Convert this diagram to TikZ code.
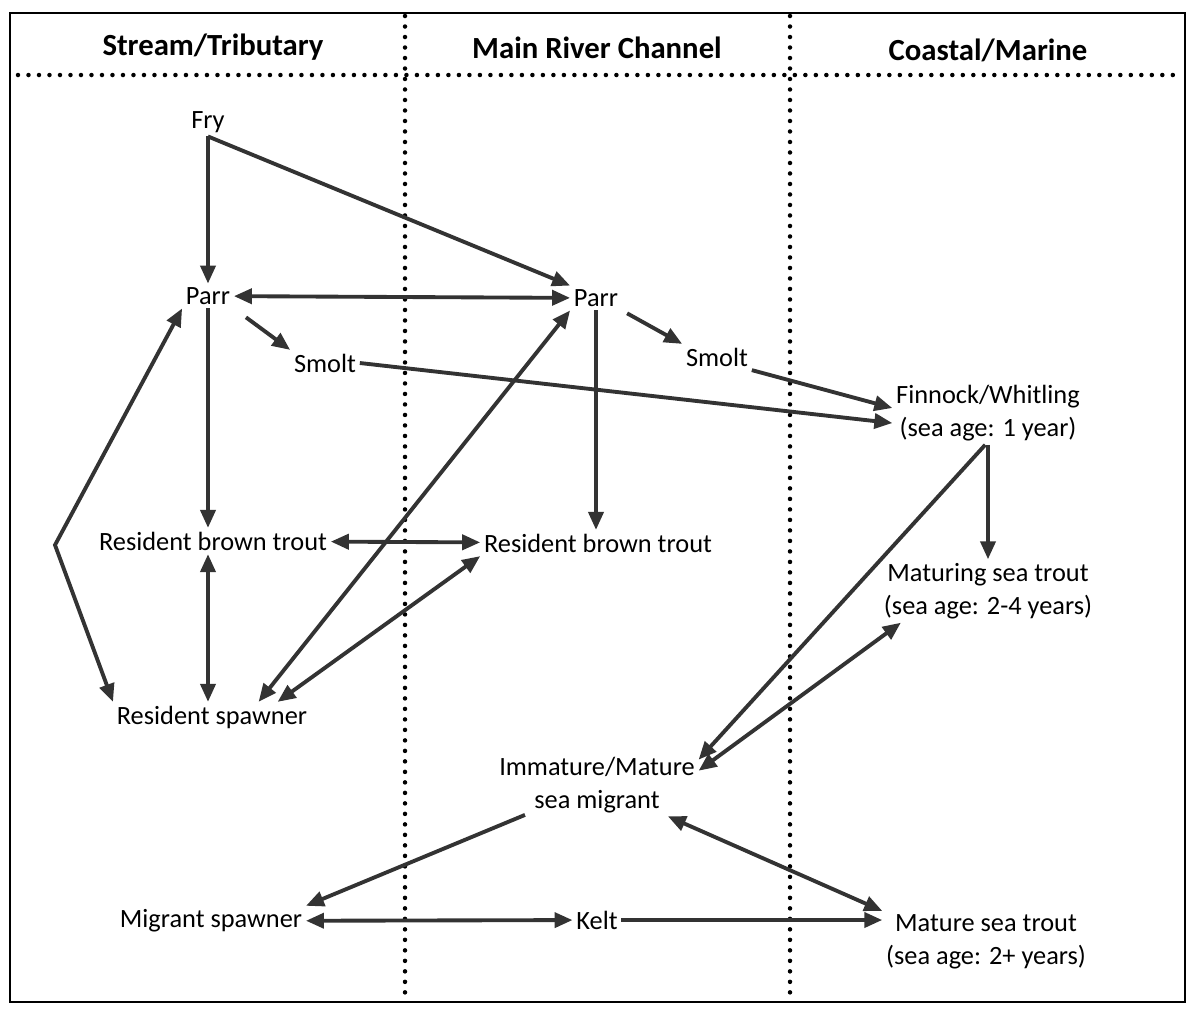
\documentclass[tikz,border=0pt]{standalone}
\usepackage{fontspec}
\setmainfont{Carlito}
\usepackage{tikz}
\usetikzlibrary{arrows.meta}

\begin{document}
\begin{tikzpicture}[x=0.02cm, y=-0.02cm,
    stage/.style={font=\fontsize{15}{18.8}\selectfont, align=center, inner sep=2pt},
    zone/.style={font=\bfseries\fontsize{17.5}{21}\selectfont},
    link/.style={draw=black!80, line width=2.2pt, -{Triangle[length=0.36cm, width=0.3cm]}},
    both/.style={link, {Triangle[length=0.36cm, width=0.3cm]}-{Triangle[length=0.36cm, width=0.3cm]}},
    dots/.style={line width=0.09cm, line cap=round, dash pattern=on 0pt off 0.21cm}]
    \useasboundingbox (0,0) rectangle (1187,1009);

    % draw frame
    \draw[line width=0.045cm] (10,13) rectangle (1185,1002);

    % draw dotted lines
    \draw[dots] (18,75) -- (1178,75);
    \foreach \x/\y in {405/995,790/1000}
      \draw[dots] (\x,16) -- (\x,\y);

    % draw headings
    \node[zone] (stream) at (213,47) {Stream/Tributary};
    \node[zone] (river) at (597,48) {Main River Channel};
    \node[zone] (coast) at (988,50) {Coastal/Marine};

    % draw nodes
    \node[stage] (fry) at (208,122) {Fry};
    \node[stage] (parr1) at (208,296) {Parr};
    \node[stage] (parr2) at (596,298) {Parr};
    \node[stage] (smolt1) at (325,363) {Smolt};
    \node[stage] (smolt2) at (717,357) {Smolt};
    \node[stage] (finnock) at (988,413) {Finnock/Whitling\\(sea age: 1 year)};
    \node[stage] (rbt1) at (213,541) {Resident brown trout};
    \node[stage] (rbt2) at (598,543) {Resident brown trout};
    \node[stage] (maturing) at (988,591) {Maturing sea trout\\(sea age: 2-4 years)};
    \node[stage] (rs) at (212,717) {Resident spawner};
    \node[stage] (immature) at (597,785) {Immature/Mature\\sea migrant};
    \node[stage] (migrant) at (211,921) {Migrant spawner};
    \node[stage] (kelt) at (597,920) {Kelt};
    \node[stage] (mature) at (986,942) {Mature sea trout\\(sea age: 2+ years)};
    \coordinate (bend) at (55,545);

    % draw arrows
    \draw[link] (fry) -- (parr1);
    \draw[link] (fry.south) -- (parr2.north west);
    \draw[both] (parr1) -- (parr2);
    \draw[link, shorten <=0.3cm] (parr1.south east) -- (smolt1.north west);
    \draw[link] (parr1) -- (parr1 |- rbt1.north);
    \draw[link, shorten <=0.12cm] (parr2.south east) -- (smolt2.north west);
    \draw[link] (parr2) -- (parr2 |- rbt2.north);
    \draw[link] (smolt1.east) -- (finnock.-174);
    \draw[link] (smolt2.south east) -- (finnock.177);
    \draw[link] (finnock) -- (maturing);
    \draw[link] (finnock.-95) -- (immature.14);
    \draw[both] (maturing.-160) -- (immature.8);
    \draw[both] (rbt1) -- (rbt2);
    \draw[both] (parr1 |- rbt1.south) -- (parr1 |- rs.north);
    \draw[both] (parr1.south west) -- (bend) -- (rs.north west);
    \draw[both] (rs.18) -- (parr2.south west);
    \draw[both] (rs.13) -- (rbt2.south west);
    \draw[link, shorten <=1.56cm] (immature.center) -- (migrant.north east);
    \draw[both, shorten <=1.55cm] (immature.center) -- (mature.north west);
    \draw[both] (migrant) -- (kelt);
    \draw[link] (kelt) -- (kelt -| mature.west);
\end{tikzpicture}
\end{document}
